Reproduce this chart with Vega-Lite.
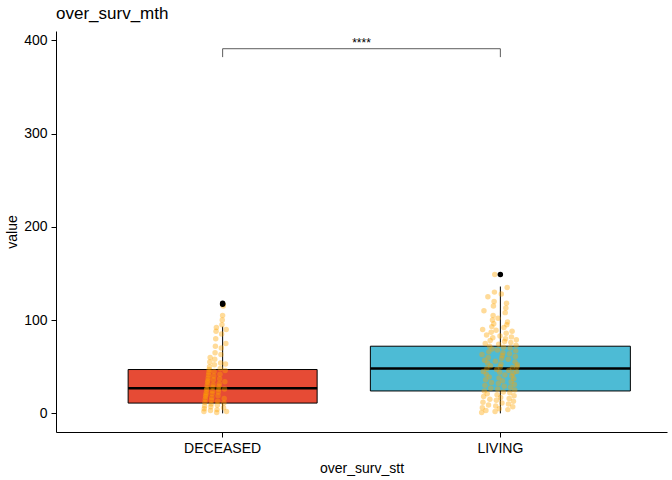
{"$schema":"https://vega.github.io/schema/vega-lite/v6.json","width":672,"height":480,"autosize":{"type":"fit","contains":"padding"},"background":"white","config":{"font":"Liberation Sans","view":{"stroke":null},"axis":{"grid":false,"domainColor":"black","tickColor":"black","labelColor":"black","titleColor":"black","labelFontSize":14,"titleFontSize":14,"titleFontWeight":"normal"}},"title":{"text":"over_surv_mth","anchor":"start","fontSize":17,"fontWeight":"normal","frame":"group","offset":8},"datasets":{"box":[{"g":"DECEASED","lo":0,"q1":11,"med":27,"q3":47,"hi":93},{"g":"LIVING","lo":0,"q1":24,"med":48,"q3":72,"hi":136}],"out":[{"g":"DECEASED","v":118},{"g":"DECEASED","v":117},{"g":"LIVING","v":149}],"br":[{"a":"DECEASED","b":"LIVING","y":391,"lab":"****"}],"tk":[{"g":"DECEASED","y0":382,"y1":391},{"g":"LIVING","y0":382,"y1":391}],"pts":[
{"g":"DECEASED","i":1,"v":2},{"g":"DECEASED","i":2,"v":5},{"g":"DECEASED","i":3,"v":8},{"g":"DECEASED","i":4,"v":12},{"g":"DECEASED","i":5,"v":15},{"g":"DECEASED","i":6,"v":18},{"g":"DECEASED","i":7,"v":20},{"g":"DECEASED","i":8,"v":22},{"g":"DECEASED","i":9,"v":25},{"g":"DECEASED","i":10,"v":27},{"g":"DECEASED","i":11,"v":30},{"g":"DECEASED","i":12,"v":33},{"g":"DECEASED","i":13,"v":35},{"g":"DECEASED","i":14,"v":38},{"g":"DECEASED","i":15,"v":41},{"g":"DECEASED","i":16,"v":44},{"g":"DECEASED","i":17,"v":47},{"g":"DECEASED","i":18,"v":50},{"g":"DECEASED","i":19,"v":55},{"g":"DECEASED","i":20,"v":60},{"g":"DECEASED","i":21,"v":3},{"g":"DECEASED","i":22,"v":7},{"g":"DECEASED","i":23,"v":10},{"g":"DECEASED","i":24,"v":14},{"g":"DECEASED","i":25,"v":17},{"g":"DECEASED","i":26,"v":21},{"g":"DECEASED","i":27,"v":24},{"g":"DECEASED","i":28,"v":28},{"g":"DECEASED","i":29,"v":31},{"g":"DECEASED","i":30,"v":36},{"g":"DECEASED","i":31,"v":40},{"g":"DECEASED","i":32,"v":45},{"g":"DECEASED","i":33,"v":52},{"g":"DECEASED","i":34,"v":58},{"g":"DECEASED","i":35,"v":65},{"g":"DECEASED","i":36,"v":72},{"g":"DECEASED","i":37,"v":80},{"g":"DECEASED","i":38,"v":88},{"g":"DECEASED","i":39,"v":92},{"g":"DECEASED","i":40,"v":1},{"g":"DECEASED","i":41,"v":4},{"g":"DECEASED","i":42,"v":9},{"g":"DECEASED","i":43,"v":13},{"g":"DECEASED","i":44,"v":19},{"g":"DECEASED","i":45,"v":23},{"g":"DECEASED","i":46,"v":26},{"g":"DECEASED","i":47,"v":29},{"g":"DECEASED","i":48,"v":32},{"g":"DECEASED","i":49,"v":37},{"g":"DECEASED","i":50,"v":42},{"g":"DECEASED","i":51,"v":48},{"g":"DECEASED","i":52,"v":54},{"g":"DECEASED","i":53,"v":63},{"g":"DECEASED","i":54,"v":70},{"g":"DECEASED","i":55,"v":85},{"g":"DECEASED","i":56,"v":95},{"g":"DECEASED","i":57,"v":100},{"g":"DECEASED","i":58,"v":105},{"g":"DECEASED","i":59,"v":117},{"g":"DECEASED","i":60,"v":115},{"g":"DECEASED","i":61,"v":6},{"g":"DECEASED","i":62,"v":11},{"g":"DECEASED","i":63,"v":16},{"g":"DECEASED","i":64,"v":26},{"g":"DECEASED","i":65,"v":34},{"g":"DECEASED","i":66,"v":46},{"g":"DECEASED","i":67,"v":53},{"g":"DECEASED","i":68,"v":75},{"g":"DECEASED","i":69,"v":90},{"g":"DECEASED","i":70,"v":2},
{"g":"LIVING","i":1,"v":1},{"g":"LIVING","i":2,"v":63},{"g":"LIVING","i":3,"v":6},{"g":"LIVING","i":4,"v":90},{"g":"LIVING","i":5,"v":12},{"g":"LIVING","i":6,"v":45},{"g":"LIVING","i":7,"v":18},{"g":"LIVING","i":8,"v":110},{"g":"LIVING","i":9,"v":24},{"g":"LIVING","i":10,"v":57},{"g":"LIVING","i":11,"v":30},{"g":"LIVING","i":12,"v":75},{"g":"LIVING","i":13,"v":36},{"g":"LIVING","i":14,"v":3},{"g":"LIVING","i":15,"v":42},{"g":"LIVING","i":16,"v":84},{"g":"LIVING","i":17,"v":48},{"g":"LIVING","i":18,"v":21},{"g":"LIVING","i":19,"v":54},{"g":"LIVING","i":20,"v":125},{"g":"LIVING","i":21,"v":60},{"g":"LIVING","i":22,"v":9},{"g":"LIVING","i":23,"v":66},{"g":"LIVING","i":24,"v":39},{"g":"LIVING","i":25,"v":72},{"g":"LIVING","i":26,"v":15},{"g":"LIVING","i":27,"v":78},{"g":"LIVING","i":28,"v":51},{"g":"LIVING","i":29,"v":27},{"g":"LIVING","i":30,"v":87},{"g":"LIVING","i":31,"v":33},{"g":"LIVING","i":32,"v":93},{"g":"LIVING","i":33,"v":69},{"g":"LIVING","i":34,"v":100},{"g":"LIVING","i":35,"v":81},{"g":"LIVING","i":36,"v":105},{"g":"LIVING","i":37,"v":115},{"g":"LIVING","i":38,"v":96},{"g":"LIVING","i":39,"v":120},{"g":"LIVING","i":40,"v":130},{"g":"LIVING","i":41,"v":149},{"g":"LIVING","i":42,"v":2},{"g":"LIVING","i":43,"v":56},{"g":"LIVING","i":44,"v":8},{"g":"LIVING","i":45,"v":89},{"g":"LIVING","i":46,"v":14},{"g":"LIVING","i":47,"v":47},{"g":"LIVING","i":48,"v":20},{"g":"LIVING","i":49,"v":68},{"g":"LIVING","i":50,"v":26},{"g":"LIVING","i":51,"v":102},{"g":"LIVING","i":52,"v":32},{"g":"LIVING","i":53,"v":74},{"g":"LIVING","i":54,"v":38},{"g":"LIVING","i":55,"v":5},{"g":"LIVING","i":56,"v":44},{"g":"LIVING","i":57,"v":83},{"g":"LIVING","i":58,"v":50},{"g":"LIVING","i":59,"v":17},{"g":"LIVING","i":60,"v":53},{"g":"LIVING","i":61,"v":128},{"g":"LIVING","i":62,"v":59},{"g":"LIVING","i":63,"v":11},{"g":"LIVING","i":64,"v":62},{"g":"LIVING","i":65,"v":35},{"g":"LIVING","i":66,"v":65},{"g":"LIVING","i":67,"v":23},{"g":"LIVING","i":68,"v":71},{"g":"LIVING","i":69,"v":92},{"g":"LIVING","i":70,"v":29},{"g":"LIVING","i":71,"v":77},{"g":"LIVING","i":72,"v":41},{"g":"LIVING","i":73,"v":108},{"g":"LIVING","i":74,"v":80},{"g":"LIVING","i":75,"v":113},{"g":"LIVING","i":76,"v":86},{"g":"LIVING","i":77,"v":118},{"g":"LIVING","i":78,"v":95},{"g":"LIVING","i":79,"v":135},{"g":"LIVING","i":80,"v":98},{"g":"LIVING","i":81,"v":4},{"g":"LIVING","i":82,"v":58},{"g":"LIVING","i":83,"v":10},{"g":"LIVING","i":84,"v":46},{"g":"LIVING","i":85,"v":16},{"g":"LIVING","i":86,"v":64},{"g":"LIVING","i":87,"v":22},{"g":"LIVING","i":88,"v":70},{"g":"LIVING","i":89,"v":28},{"g":"LIVING","i":90,"v":76},{"g":"LIVING","i":91,"v":34},{"g":"LIVING","i":92,"v":82},{"g":"LIVING","i":93,"v":40},{"g":"LIVING","i":94,"v":88},{"g":"LIVING","i":95,"v":49},{"g":"LIVING","i":96,"v":7},{"g":"LIVING","i":97,"v":43},{"g":"LIVING","i":98,"v":13},{"g":"LIVING","i":99,"v":37},{"g":"LIVING","i":100,"v":19},{"g":"LIVING","i":101,"v":31},{"g":"LIVING","i":102,"v":25},{"g":"LIVING","i":103,"v":55},{"g":"LIVING","i":104,"v":61},{"g":"LIVING","i":105,"v":67},{"g":"LIVING","i":106,"v":73},{"g":"LIVING","i":107,"v":79},{"g":"LIVING","i":108,"v":45},{"g":"LIVING","i":109,"v":50},{"g":"LIVING","i":110,"v":52}]},
"encoding":{"x":{"field":"g","type":"nominal","title":"over_surv_stt","scale":{"domain":["DECEASED","LIVING"],"paddingInner":0,"paddingOuter":0.1},"axis":{"labelAngle":0,"labelPadding":4,"titlePadding":6}}},
"layer":[
{"data":{"name":"box"},"mark":{"type":"rule","color":"black","strokeWidth":1},"encoding":{"y":{"field":"lo","type":"quantitative","title":"value","scale":{"domain":[-20,410],"nice":false,"zero":false},"axis":{"values":[0,100,200,300,400],"labelPadding":4}},"y2":{"field":"hi"}}},
{"data":{"name":"box"},"transform":[{"filter":"datum.g=='DECEASED'"}],"mark":{"type":"bar","size":189,"fill":"#E64B35","stroke":"black","strokeWidth":1},"encoding":{"y":{"field":"q1","type":"quantitative"},"y2":{"field":"q3"}}},
{"data":{"name":"box"},"transform":[{"filter":"datum.g=='LIVING'"}],"mark":{"type":"bar","size":260,"fill":"#4DBBD5","stroke":"black","strokeWidth":1},"encoding":{"y":{"field":"q1","type":"quantitative"},"y2":{"field":"q3"}}},
{"data":{"name":"box"},"transform":[{"filter":"datum.g=='DECEASED'"}],"mark":{"type":"tick","orient":"horizontal","size":189,"thickness":2.5,"color":"black","opacity":1},"encoding":{"y":{"field":"med","type":"quantitative"}}},
{"data":{"name":"box"},"transform":[{"filter":"datum.g=='LIVING'"}],"mark":{"type":"tick","orient":"horizontal","size":260,"thickness":2.5,"color":"black","opacity":1},"encoding":{"y":{"field":"med","type":"quantitative"}}},
{"data":{"name":"pts"},"mark":{"type":"circle","size":30,"color":"#FFA500","opacity":0.4},"encoding":{"y":{"field":"v","type":"quantitative"},"xOffset":{"field":"i","type":"ordinal","scale":{"range":[120,156]}}}},
{"data":{"name":"out"},"mark":{"type":"circle","size":30,"color":"black","opacity":1},"encoding":{"y":{"field":"v","type":"quantitative"}}},
{"data":{"name":"br"},"mark":{"type":"rule","color":"#333","strokeWidth":0.8},"encoding":{"x":{"field":"a","type":"nominal","bandPosition":0.5},"x2":{"field":"b"},"y":{"field":"y","type":"quantitative"}}},
{"data":{"name":"tk"},"mark":{"type":"rule","color":"#333","strokeWidth":0.8},"encoding":{"y":{"field":"y0","type":"quantitative"},"y2":{"field":"y1"}}},
{"data":{"name":"br"},"mark":{"type":"text","fontSize":12,"dy":-6,"color":"black"},"encoding":{"x":{"field":"b","type":"nominal","bandPosition":0},"y":{"field":"y","type":"quantitative"},"text":{"field":"lab"}}}
]}
